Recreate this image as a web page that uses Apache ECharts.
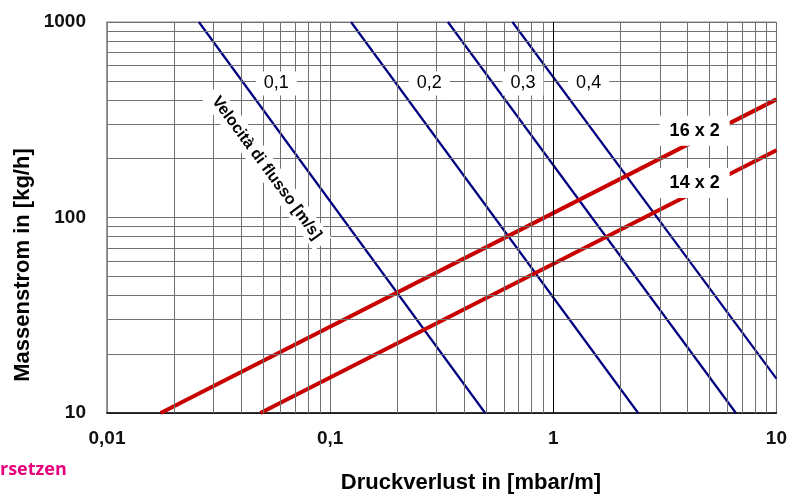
<!DOCTYPE html>
<html>
<head>
<meta charset="utf-8">
<script src="https://cdn.jsdelivr.net/npm/echarts@6/dist/echarts.min.js"></script>
<style>html,body{margin:0;padding:0;background:#fff;}#c{width:790px;height:495px;}</style>
</head>
<body>
<div id="c"></div>
<script>
// ---- data ----
const xTickLabels = ['0,01', '0,1', '1', '10'];
const yTickLabels = ['10', '100', '1000'];
const velocityNames = ['0,1', '0,2', '0,3', '0,4'];
const vel01 = [[0.0258, 1000], [0.495, 10]];
const vel02 = [[0.124, 1000], [2.40, 10]];
const vel03 = [[0.337, 1000], [6.58, 10]];
const vel04 = [[0.656, 1000], [10, 15.0]];
const pipeNames = ['16 x 2', '14 x 2'];
const pipe16 = [[0.0174, 10], [10, 402]];
const pipe14 = [[0.0487, 10], [10, 221]];
const velocityLabelAt = [[0.0574, 485], [0.278, 485], [0.731, 485], [1.44, 485]];
const pipeLabelAt = [[4.30, 278], [4.30, 150]];
const velocityTitle = 'Velocità di flusso [m/s]';
const velocityTitleAt = [0.0518, 179];
const xName = 'Druckverlust in [mbar/m]';
const yName = 'Massenstrom in [kg/h]';
const cornerText = 'rsetzen';

// minor grid values (2..9 per decade)
const xMinor = [], yMinor = [];
[-2, -1, 0].forEach(d => { for (let k = 2; k <= 9; k++) xMinor.push(+(k * Math.pow(10, d)).toPrecision(3)); });
[1, 2].forEach(d => { for (let k = 2; k <= 9; k++) yMinor.push(+(k * Math.pow(10, d)).toPrecision(3)); });

const FONT = '"Liberation Sans", Arial, sans-serif';
const chart = echarts.init(document.getElementById('c'));

const gridLines = [];
xMinor.forEach(v => gridLines.push({ xAxis: v }));
yMinor.forEach(v => gridLines.push({ yAxis: v }));
gridLines.push({ xAxis: 1, lineStyle: { color: '#000', width: 1 } });

const blueStyle = { color: '#000080', width: 2.2 };
const redStyle = { color: '#c80000', width: 4, cap: 'butt' };

const labelData = velocityNames.map((n, i) => ({ name: n, value: velocityLabelAt[i] }));
const pipeLabelData = pipeNames.map((n, i) => ({ name: n, value: pipeLabelAt[i] }));
const solidItem = { opacity: 1, color: '#fff' };

chart.setOption({
  animation: false,
  grid: { left: 107, right: 11, top: 22, bottom: 82, show: true, borderColor: '#888', borderWidth: 1 },
  xAxis: {
    type: 'log', logBase: 10, min: 0.01, max: 10,
    axisLine: { show: true, lineStyle: { color: '#000', width: 1.5 } },
    axisTick: { show: false },
    axisLabel: {
      margin: 16, fontSize: 19, fontWeight: 'bold', color: '#111', fontFamily: FONT,
      formatter: v => xTickLabels[Math.round(Math.log10(v)) + 2]
    },
    splitLine: { show: true, lineStyle: { color: '#707070', width: 1 } }
  },
  yAxis: {
    type: 'log', logBase: 10, min: 10, max: 1000,
    axisLine: { show: true, lineStyle: { color: '#888', width: 1.5 } },
    axisTick: { show: false },
    axisLabel: {
      margin: 21, fontSize: 19, fontWeight: 'bold', color: '#111', fontFamily: FONT,
      formatter: v => yTickLabels[Math.round(Math.log10(v)) - 1]
    },
    splitLine: { show: true, lineStyle: { color: '#707070', width: 1 } }
  },
  graphic: [
    { type: 'text', x: 23, y: 265, rotation: Math.PI / 2,
      style: { text: yName, fontSize: 22, fontWeight: 'bold', fontFamily: FONT, fill: '#000', align: 'center', verticalAlign: 'middle' } },
    { type: 'text', x: 471, y: 483,
      style: { text: xName, fontSize: 22, fontWeight: 'bold', fontFamily: FONT, fill: '#000', align: 'center', verticalAlign: 'middle' } },
    { type: 'text', x: 0, y: 470,
      style: { text: cornerText, fontSize: 18, fontWeight: 'bold', fontFamily: '"Open Sans", sans-serif', fill: '#e6007e', align: 'left', verticalAlign: 'middle' } }
  ],
  series: [
    { type: 'line', data: [], z: 1, silent: true,
      markLine: { silent: true, symbol: 'none', animation: false, label: { show: false },
        lineStyle: { color: '#707070', width: 1, type: 'solid' }, data: gridLines } },
    { type: 'line', data: vel01, showSymbol: false, lineStyle: blueStyle, z: 3 },
    { type: 'line', data: vel02, showSymbol: false, lineStyle: blueStyle, z: 3 },
    { type: 'line', data: vel03, showSymbol: false, lineStyle: blueStyle, z: 3 },
    { type: 'line', data: vel04, showSymbol: false, lineStyle: blueStyle, z: 3 },
    { type: 'line', data: pipe16, showSymbol: false, lineStyle: redStyle, z: 4 },
    { type: 'line', data: pipe14, showSymbol: false, lineStyle: redStyle, z: 4 },
    { type: 'scatter', z: 10, symbolSize: 0, itemStyle: solidItem, data: labelData,
      label: { show: true, position: 'inside', formatter: '{b}', fontSize: 18, color: '#000', fontFamily: FONT,
        backgroundColor: '#fff', padding: [3, 8] } },
    { type: 'scatter', z: 10, symbolSize: 0, itemStyle: solidItem, data: pipeLabelData,
      label: { show: true, position: 'inside', formatter: '{b}', fontSize: 18, fontWeight: 'bold', color: '#000', fontFamily: FONT,
        backgroundColor: '#fff', padding: [6, 10] } },
    { type: 'scatter', z: 10, symbolSize: 0, itemStyle: solidItem, data: [{ name: velocityTitle, value: velocityTitleAt }],
      label: { show: true, position: 'inside', formatter: '{b}', fontSize: 16, fontWeight: 'bold', color: '#000', fontFamily: FONT,
        rotate: -53.6, backgroundColor: '#fff', padding: [3, 8] } }
  ]
});
</script>
</body>
</html>
